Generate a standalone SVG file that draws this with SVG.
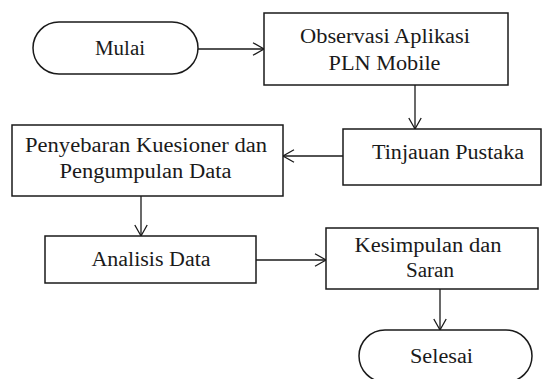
<svg xmlns="http://www.w3.org/2000/svg" width="542" height="379" viewBox="0 0 542 379">
<defs>
<marker id="arr" markerUnits="userSpaceOnUse" markerWidth="14" markerHeight="14" refX="12" refY="7" orient="auto">
<path d="M1,0.8 L12,7 L1,13.2" fill="none" stroke="#1a1a1a" stroke-width="1.3"/>
</marker>
<style>
.box{fill:#fff;stroke:#1a1a1a;stroke-width:1.5}
.t{font-family:'Liberation Serif','DejaVu Serif',serif;font-size:20px;fill:#1a1a1a;text-anchor:middle}
.c{stroke:#1a1a1a;stroke-width:1.3;fill:none;marker-end:url(#arr)}
</style>
</defs>
<rect width="542" height="379" fill="#fff"/>
<g id="connectors">
<line class="c" x1="198" y1="49" x2="264" y2="49"/>
<line class="c" x1="415" y1="85" x2="415" y2="129"/>
<line class="c" x1="343" y1="156" x2="283" y2="156"/>
<line class="c" x1="141" y1="196" x2="141" y2="236"/>
<line class="c" x1="256" y1="260" x2="326" y2="260"/>
<line class="c" x1="440" y1="289" x2="440" y2="330"/>
</g>
<g id="mulai">
<rect class="box" x="33" y="22" width="165" height="52" rx="26"/>
<text class="t" x="120" y="55" textLength="50" lengthAdjust="spacingAndGlyphs">Mulai</text>
</g>
<g id="observasi">
<rect class="box" x="264" y="13" width="244" height="72"/>
<text class="t" x="385" y="43" textLength="170" lengthAdjust="spacingAndGlyphs">Observasi Aplikasi</text>
<text class="t" x="384.5" y="70" textLength="112" lengthAdjust="spacingAndGlyphs">PLN Mobile</text>
</g>
<g id="tinjauan">
<rect class="box" x="343" y="129" width="198" height="56"/>
<text class="t" x="448" y="159" textLength="152" lengthAdjust="spacingAndGlyphs">Tinjauan Pustaka</text>
</g>
<g id="penyebaran">
<rect class="box" x="12" y="125" width="271" height="71"/>
<text class="t" x="146" y="152" textLength="242" lengthAdjust="spacingAndGlyphs">Penyebaran Kuesioner dan</text>
<text class="t" x="145.5" y="178" textLength="172" lengthAdjust="spacingAndGlyphs">Pengumpulan Data</text>
</g>
<g id="analisis">
<rect class="box" x="45" y="236" width="211" height="47"/>
<text class="t" x="151" y="266" textLength="119" lengthAdjust="spacingAndGlyphs">Analisis Data</text>
</g>
<g id="kesimpulan">
<rect class="box" x="326" y="228" width="212" height="61"/>
<text class="t" x="428" y="252" textLength="147" lengthAdjust="spacingAndGlyphs">Kesimpulan dan</text>
<text class="t" x="430" y="277" textLength="48" lengthAdjust="spacingAndGlyphs">Saran</text>
</g>
<g id="selesai">
<rect class="box" x="359" y="330" width="173" height="52" rx="26"/>
<text class="t" x="441.5" y="363" textLength="63" lengthAdjust="spacingAndGlyphs">Selesai</text>
</g>
</svg>
